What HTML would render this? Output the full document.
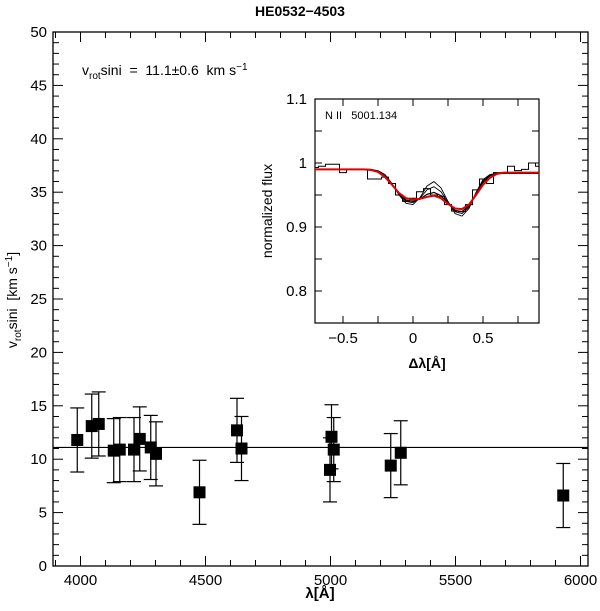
<!DOCTYPE html>
<html><head><meta charset="utf-8"><style>
body{margin:0;background:#fff}
svg{display:block;font-family:"Liberation Sans",sans-serif}
text{white-space:pre}
</style></head><body>
<svg id="c" width="600" height="611" viewBox="0 0 600 611"></svg>
<script>
// main plot data
const lambdas=[3987,4045,4073,4133,4157,4214,4237,4281,4302,4476,4626,4644,5004,4998,5013,5241,5281,5931];
const vsini=[11.8,13.1,13.3,10.8,10.9,10.9,11.9,11.1,10.5,6.9,12.7,11.0,12.1,9.0,10.9,9.4,10.6,6.6];
const errs=[3,3,3,3,3,3,3,3,3,3,3,3,3,3,3,3,3,3];
const meanV=11.1;
const xTicks=[4000,4500,5000,5500,6000];
const yTicks=[0,5,10,15,20,25,30,35,40,45,50];
// inset data
const dl=[-0.7,-0.65,-0.6,-0.55,-0.5,-0.45,-0.4,-0.35,-0.3,-0.25,-0.2,-0.15,-0.1,-0.05,0,0.05,0.1,0.15,0.2,0.25,0.3,0.35,0.4,0.45,0.5,0.55,0.6,0.65,0.7,0.75,0.8,0.85,0.9];
const obsFlux=[0.993,0.995,0.998,0.998,0.985,0.99,0.99,0.99,0.975,0.975,0.978,0.968,0.95,0.94,0.945,0.955,0.96,0.95,0.948,0.935,0.925,0.924,0.935,0.958,0.975,0.968,0.985,0.985,0.995,0.988,0.99,1.0,0.995];
const redFit=[0.99,0.99,0.99,0.99,0.99,0.99,0.99,0.99,0.989,0.986,0.978,0.966,0.953,0.945,0.943,0.944,0.947,0.949,0.945,0.936,0.929,0.928,0.935,0.95,0.966,0.977,0.983,0.985,0.985,0.985,0.985,0.985,0.985];
const fitA=[0.99,0.99,0.99,0.99,0.99,0.99,0.99,0.99,0.99,0.988,0.982,0.968,0.95,0.937,0.935,0.946,0.964,0.971,0.961,0.94,0.921,0.917,0.929,0.954,0.974,0.982,0.984,0.984,0.984,0.984,0.984,0.984,0.984];
const fitB=[0.99,0.99,0.99,0.99,0.99,0.99,0.99,0.99,0.99,0.987,0.98,0.967,0.951,0.94,0.938,0.945,0.958,0.963,0.955,0.938,0.924,0.921,0.931,0.953,0.972,0.981,0.984,0.984,0.984,0.984,0.984,0.984,0.984];
const fitC=[0.99,0.99,0.99,0.99,0.99,0.99,0.99,0.99,0.99,0.987,0.979,0.967,0.952,0.942,0.94,0.944,0.951,0.954,0.949,0.937,0.926,0.924,0.933,0.951,0.97,0.98,0.984,0.984,0.984,0.984,0.984,0.984,0.984];
const ixTicks=[-0.5,0,0.5];
const iyTicks=[0.8,0.9,1,1.1];
const NS='http://www.w3.org/2000/svg';
const svg=document.getElementById('c');
function el(t,a,p){const e=document.createElementNS(NS,t);for(const k in a)e.setAttribute(k,a[k]);(p||svg).appendChild(e);return e;}
const L=53,R=588,T=32,B=566;
const X=v=>L+(v-3890)/(6030-3890)*(R-L);
const Y=v=>B-(v/50)*(B-T);
let g=el('g',{});


let fr=el('rect',{x:L,y:T,width:R-L,height:B-T,fill:'none',stroke:'#000','stroke-width':1.3},g);


for(let v=3900;v<=6000;v+=100){const x=X(v),len=v%500===0?10:6;
 el('line',{x1:x,y1:B,x2:x,y2:B-len,stroke:'#000'},g);el('line',{x1:x,y1:T,x2:x,y2:T+len,stroke:'#000'},g);}
for(let v=0;v<=50;v+=1){const y=Y(v),len=v%5===0?10:6;
 el('line',{x1:L,y1:y,x2:L+len,y2:y,stroke:'#000'},g);el('line',{x1:R,y1:y,x2:R-len,y2:y,stroke:'#000'},g);}
xTicks.forEach(v=>{const t=el('text',{x:X(v),y:B+19,'text-anchor':'middle','font-size':15},g);t.textContent=v;
 });
yTicks.forEach(v=>{const t=el('text',{x:L-6,y:Y(v)+5,'text-anchor':'end','font-size':15},g);t.textContent=v;
 });
let ml=el('line',{x1:L,x2:R,y1:Y(meanV),y2:Y(meanV),stroke:'#000','stroke-width':1.2},g);

lambdas.forEach((l,i)=>{const x=X(l),y=Y(vsini[i]),y1=Y(vsini[i]+errs[i]),y2=Y(vsini[i]-errs[i]);
 const pg=el('g',{},g);
 el('line',{x1:x,x2:x,y1:y1,y2:y2,stroke:'#000','stroke-width':1.2},pg);
 el('line',{x1:x-7,x2:x+7,y1:y1,y2:y1,stroke:'#000','stroke-width':1.2},pg);
 el('line',{x1:x-7,x2:x+7,y1:y2,y2:y2,stroke:'#000','stroke-width':1.2},pg);
 el('rect',{x:x-6,y:y-6,width:12,height:12,fill:'#000'},pg);});
let tt=el('text',{x:300,y:16,'text-anchor':'middle','font-size':14,'font-weight':'bold'});tt.textContent='HE0532\u22124503';

let xl=el('text',{x:320,y:598,'text-anchor':'middle','font-size':15,'font-weight':'bold'});xl.textContent='λ[Å]';

let yl=el('text',{transform:'translate(17,300) rotate(-90)','text-anchor':'middle','font-size':14});
yl.innerHTML='v<tspan font-size="10" dy="4">rot</tspan><tspan dy="-4">sini  [km s</tspan><tspan font-size="10" dy="-5">−1</tspan><tspan dy="5">]</tspan>';

let an=el('text',{x:82,y:75,'font-size':14});
an.innerHTML='v<tspan font-size="10" dy="4">rot</tspan><tspan dy="-4">sini  =  11.1±0.6  km s</tspan><tspan font-size="10" dy="-5">−1</tspan>';

const iL=315,iR=539,iT=99,iB=323;
const IX=v=>iL+(v+0.7)/1.6*(iR-iL);
const IY=v=>iB-(v-0.75)/0.35*(iB-iT);
let ig=el('g',{});
el('rect',{x:iL,y:iT,width:iR-iL,height:iB-iT,fill:'#fff',stroke:'#000','stroke-width':1.2},ig);
for(let v=-0.5;v<=0.76;v+=0.25){const x=IX(v);el('line',{x1:x,x2:x,y1:iB,y2:iB-7,stroke:'#000'},ig);el('line',{x1:x,x2:x,y1:iT,y2:iT+7,stroke:'#000'},ig);}
for(let k=0;k<=7;k++){const y=IY(0.75+k*0.05);el('line',{x1:iL,x2:iL+7,y1:y,y2:y,stroke:'#000'},ig);el('line',{x1:iR,x2:iR-7,y1:y,y2:y,stroke:'#000'},ig);}
ixTicks.forEach(v=>{const t=el('text',{x:IX(v),y:iB+20,'text-anchor':'middle','font-size':15},ig);t.textContent=v===0?'0':(v<0?'\u22120.5':'0.5');
 });
iyTicks.forEach(v=>{const t=el('text',{x:iL-8,y:IY(v)+5,'text-anchor':'end','font-size':15},ig);t.textContent=v===1?'1':v.toFixed(1);
 });
let il=el('text',{x:iL+10,y:iT+20,'font-size':11},ig);il.textContent='N II   5001.134';

let ixl=el('text',{x:427,y:368,'text-anchor':'middle','font-size':14,'font-weight':'bold'});ixl.textContent='Δλ[Å]';

let iyl=el('text',{transform:'translate(272,211) rotate(-90)','text-anchor':'middle','font-size':14});iyl.textContent='normalized flux';

let d='';const hw=0.025;
dl.forEach((v,i)=>{const x1=IX(Math.max(-0.7,v-hw)),x2=IX(Math.min(0.9,v+hw)),y=IY(obsFlux[i]);d+=(i?'L':'M')+x1+','+y+'L'+x2+','+y;});
let op=el('path',{d:d,fill:'none',stroke:'#000','stroke-width':1},ig);

function curve(arr,col,w,name){const p=el('polyline',{points:dl.map((v,i)=>IX(v)+','+IY(arr[i])).join(' '),fill:'none',stroke:col,'stroke-width':w,'stroke-linejoin':'round'},ig);
 }
curve(fitA,'#000',0.9,'model-fit-a');
curve(fitB,'#000',0.9,'model-fit-b');
curve(fitC,'#000',1.2,'model-fit-c');
curve(redFit,'#e00000',2,'best-fit');
</script>
</body></html>
